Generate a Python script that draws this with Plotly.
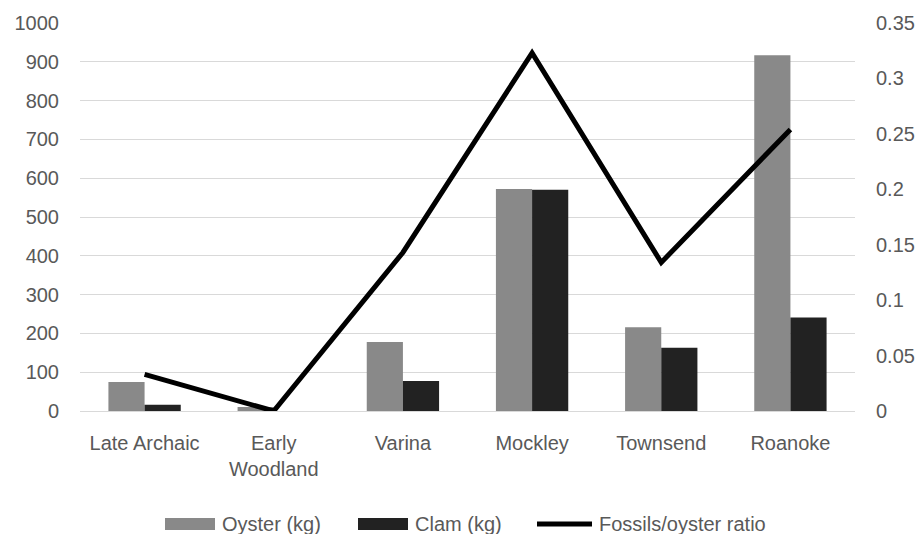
import plotly.graph_objects as go

# Shell weights per cultural period and the fossil/oyster ratio
periods = ["Late Archaic", "Early<br>Woodland", "Varina", "Mockley", "Townsend", "Roanoke"]
oyster_kg = [75, 10, 178, 572, 216, 917]
clam_kg = [16, 0, 77, 570, 163, 241]
fossil_ratio = [0.033, 0.0, 0.143, 0.323, 0.134, 0.254]

left_ticks = list(range(0, 1001, 100))
right_ticks = [0, 0.05, 0.1, 0.15, 0.2, 0.25, 0.3, 0.35]
right_labels = ["0", "0.05", "0.1", "0.15", "0.2", "0.25", "0.3", "0.35"]

series_names = ["Oyster (kg)", "Clam (kg)", "Fossils/oyster ratio"]
series_colors = ["#898989", "#222222", "#000000"]

text_color = "#595959"
font_family = "Liberation Sans, Arial, sans-serif"

W, H = 921, 534
M = dict(l=80, r=66, t=23, b=123)
plot_w = W - M["l"] - M["r"]
plot_h = H - M["t"] - M["b"]


def px_to_paper(px, py):
    return (px - M["l"]) / plot_w, (H - M["b"] - py) / plot_h


fig = go.Figure()
fig.add_trace(go.Bar(x=periods, y=oyster_kg, name=series_names[0],
                     marker=dict(color=series_colors[0], line=dict(width=0))))
fig.add_trace(go.Bar(x=periods, y=clam_kg, name=series_names[1],
                     marker=dict(color=series_colors[1], line=dict(width=0))))
fig.add_trace(go.Scatter(x=periods, y=fossil_ratio, name=series_names[2],
                         mode="lines", yaxis="y2",
                         line=dict(color=series_colors[2], width=5)))

# Legend row below the chart: wide swatches followed by labels
legend_y = 524
swatches = [(165, 215, "bar"), (358, 408, "bar"), (537, 592, "line")]
shapes = []
annotations = []
for (x0, x1, kind), name, color in zip(swatches, series_names, series_colors):
    if kind == "bar":
        a0, b0 = px_to_paper(x0, legend_y - 6)
        a1, b1 = px_to_paper(x1, legend_y + 6)
        shapes.append(dict(type="rect", xref="paper", yref="paper",
                           x0=a0, x1=a1, y0=b1, y1=b0,
                           fillcolor=color, line=dict(width=0)))
    else:
        a0, b0 = px_to_paper(x0, legend_y)
        a1, _ = px_to_paper(x1, legend_y)
        shapes.append(dict(type="line", xref="paper", yref="paper",
                           x0=a0, x1=a1, y0=b0, y1=b0,
                           line=dict(color=color, width=5)))
    tx, ty = px_to_paper(x1 + 5, legend_y)
    annotations.append(dict(xref="paper", yref="paper", x=tx, y=ty,
                            xanchor="left", yanchor="middle", showarrow=False,
                            text=name, font=dict(size=20, color=text_color)))

fig.update_layout(
    width=W, height=H,
    margin=M,
    paper_bgcolor="white", plot_bgcolor="white",
    barmode="group", bargap=0.44, bargroupgap=0,
    font=dict(family=font_family, size=20, color=text_color),
    showlegend=False,
    shapes=shapes,
    annotations=annotations,
    xaxis=dict(showgrid=False, showline=True, linecolor="#d9d9d9", linewidth=1.3,
               ticks="", automargin=False, ticklabelstandoff=14,
               tickfont=dict(size=20, color=text_color)),
    yaxis=dict(range=[0, 1000], tickvals=left_ticks, showgrid=True,
               gridcolor="#d9d9d9", gridwidth=1.3, zeroline=False,
               ticks="", automargin=False, ticklabelstandoff=20,
               tickfont=dict(size=20, color=text_color)),
    yaxis2=dict(range=[0, 0.35], tickvals=right_ticks, ticktext=right_labels,
                overlaying="y", side="right", showgrid=False, zeroline=False,
                automargin=False, ticklabelstandoff=20,
                tickfont=dict(size=20, color=text_color)),
)

fig.write_html("out.html")
